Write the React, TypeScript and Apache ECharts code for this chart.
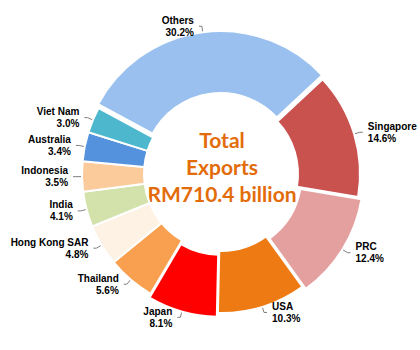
import React, { useEffect, useRef } from "react";
import * as echarts from "echarts";

const countries = ["Singapore", "PRC", "USA", "Japan", "Thailand", "Hong Kong SAR", "India", "Indonesia", "Australia", "Viet Nam", "Others"];
const shares = [14.6, 12.4, 10.3, 8.1, 5.6, 4.8, 4.1, 3.5, 3.4, 3.0, 30.2];
const colors = ["#C9524F", "#E4A09E", "#EE7A14", "#FF0000", "#F9A050", "#FDF2E4", "#D3E2AA", "#FBCB9B", "#5592DD", "#4DB8CD", "#99C0EE"];
const explodedItems = ["Others", "PRC", "Japan"];
const centerTitle = "Total\nExports\nRM710.4 billion";

export default function App() {
  const ref = useRef<HTMLDivElement>(null);
  useEffect(() => {
    document.body.style.margin = "0";
    const chart = echarts.init(ref.current!, null, { renderer: "svg" });
    chart.setOption({
      animation: false,
      backgroundColor: "#ffffff",
      graphic: [
        {
          type: "text",
          x: 222,
          y: 166,
          style: {
            text: centerTitle,
            font: "bold 21px Lato",
            lineHeight: 27,
            fill: "#E36C0A",
            align: "center",
            verticalAlign: "middle",
          },
        },
      ],
      series: [
        {
          type: "pie",
          center: [221, 174],
          radius: [77, 139],
          startAngle: 43,
          clockwise: true,
          selectedMode: "multiple",
          selectedOffset: 4,
          avoidLabelOverlap: true,
          itemStyle: { borderColor: "#ffffff", borderWidth: 2 },
          label: {
            show: true,
            formatter: (p: any) => `${p.name}\n${p.value.toFixed(1)}%`,
            fontFamily: "Liberation Sans",
            fontWeight: "bold",
            fontSize: 10,
            lineHeight: 12,
            color: "#000000",
            align: "center",
            overflow: "none",
            width: 90,
          },
          labelLine: {
            show: true,
            length: 6,
            length2: 3,
            lineStyle: { color: "#7F7F7F", width: 1 },
          },
          emphasis: { disabled: true },
          data: countries.map((c, i) => ({
            name: c,
            value: shares[i],
            selected: explodedItems.includes(c),
            itemStyle: { color: colors[i] },
          })),
        },
      ],
    });
    return () => chart.dispose();
  }, []);
  return <div ref={ref} style={{ width: 420, height: 350 }} />;
}
